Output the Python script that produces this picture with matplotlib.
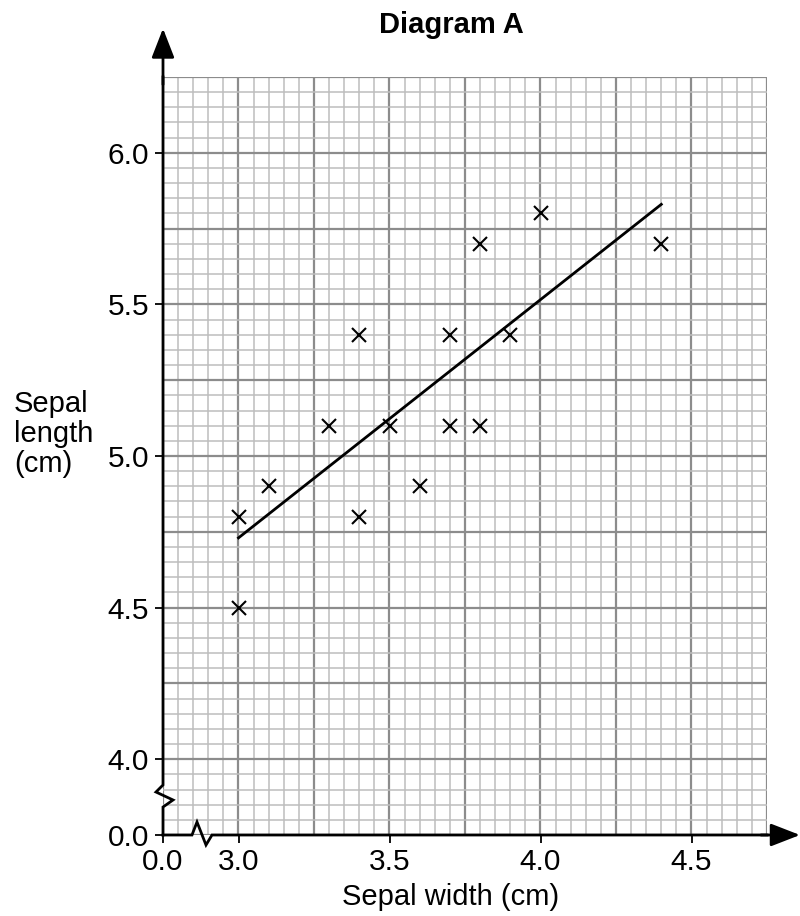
import matplotlib.pyplot as plt
import matplotlib
import numpy as np

matplotlib.rcParams['font.family'] = ['Liberation Sans', 'DejaVu Sans']

# data
sepal_width  = [3.0, 3.0, 3.1, 3.3, 3.4, 3.4, 3.5, 3.6, 3.7, 3.7, 3.8, 3.8, 3.9, 4.0, 4.4]
sepal_length = [4.8, 4.5, 4.9, 5.1, 5.4, 4.8, 5.1, 4.9, 5.4, 5.1, 5.7, 5.1, 5.4, 5.8, 5.7]

# line of best fit (end points)
fit_x = [3.0, 4.4]
fit_y = [4.73, 5.83]

x_ticks  = [2.75, 3.0, 3.5, 4.0, 4.5]
x_labels = ["0.0", "3.0", "3.5", "4.0", "4.5"]
y_ticks  = [3.75, 4.0, 4.5, 5.0, 5.5, 6.0]
y_labels = ["0.0", "4.0", "4.5", "5.0", "5.5", "6.0"]

XMIN, XMAX = 2.75, 4.75
YMIN, YMAX = 3.75, 6.25

fig = plt.figure(figsize=(8, 9.16), dpi=100)
ax = fig.add_axes([163/800, 81/916, 604/800, 758/916])
ax.set_xlim(XMIN, XMAX)
ax.set_ylim(YMIN, YMAX)

# graph paper
for v in np.arange(XMIN, XMAX + 1e-9, 0.05):
    major = abs((v - XMIN) / 0.25 - round((v - XMIN) / 0.25)) < 1e-6
    ax.axvline(v, color="#8c8c8c" if major else "#bdbdbd",
               lw=1.6 if major else 1.1, zorder=1)
for v in np.arange(YMIN, YMAX + 1e-9, 0.05):
    major = abs((v - YMIN) / 0.25 - round((v - YMIN) / 0.25)) < 1e-6
    ax.axhline(v, color="#8c8c8c" if major else "#bdbdbd",
               lw=1.6 if major else 1.1, zorder=1)

for s in ax.spines.values():
    s.set_visible(False)

# points and fitted line
ax.plot(sepal_width, sepal_length, "x", color="black", ms=10, mew=1.5, zorder=4)
ax.plot(fit_x, fit_y, color="black", lw=2, zorder=3)

ax.set_xticks(x_ticks)
ax.set_xticklabels(x_labels, fontsize=21.5)
ax.set_yticks(y_ticks)
ax.set_yticklabels(y_labels, fontsize=21.5)
ax.tick_params(axis="both", length=6, width=1.3, color="black")
ax.tick_params(axis="x", pad=3)
ax.tick_params(axis="y", pad=4)

# axes with breaks (axes fraction coords)
kw = dict(color="black", lw=2, transform=ax.transAxes, clip_on=False,
          zorder=5, solid_joinstyle="miter")
ax.plot([0, 0, 0.0166, -0.0116, 0, 0],
        [0, 0.0369, 0.0462, 0.0567, 0.066, 1.0], **kw)
ax.plot([0, 0.048, 0.0563, 0.0712, 0.0811, 1.0],
        [0, 0, 0.01715, -0.0132, 0, 0], **kw)
ax.annotate("", xy=(0, 1.064), xytext=(0, 0.99), xycoords="axes fraction",
            arrowprops=dict(arrowstyle="-|>,head_length=0.9,head_width=0.35",
                            color="black", lw=2, shrinkA=0, shrinkB=0,
                            mutation_scale=20))
ax.annotate("", xy=(1.0546, 0), xytext=(0.99, 0), xycoords="axes fraction",
            arrowprops=dict(arrowstyle="-|>,head_length=0.9,head_width=0.35",
                            color="black", lw=2, shrinkA=0, shrinkB=0,
                            mutation_scale=20))

fig.text(451/800, 1 - 25/916, "Diagram A", fontsize=21, fontweight="bold",
         ha="center", va="center")
fig.text(14/800, 1 - 434/916, "Sepal\nlength\n(cm)", fontsize=21,
         ha="left", va="center", linespacing=1.1)
fig.text(451/800, 1 - 897/916, "Sepal width (cm)", fontsize=21,
         ha="center", va="center")

fig.savefig("out.png", dpi=100)
